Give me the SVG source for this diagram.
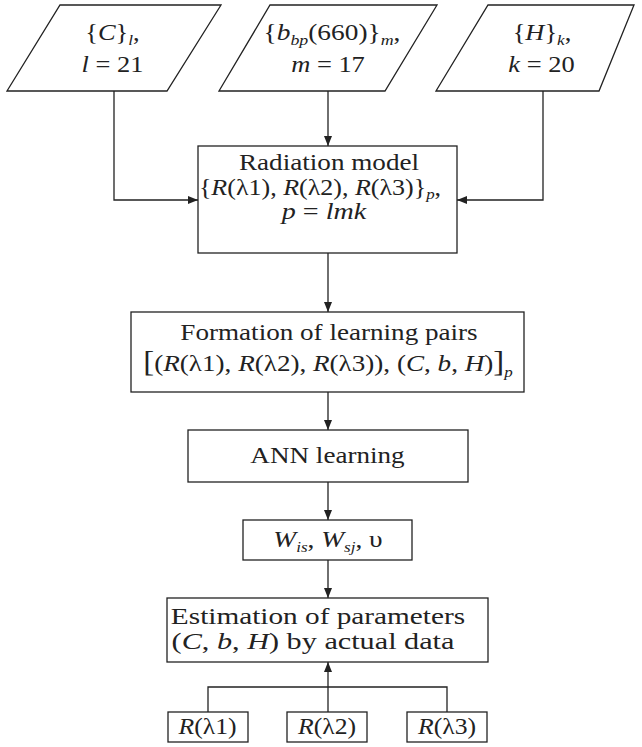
<svg xmlns="http://www.w3.org/2000/svg" width="642" height="747" viewBox="0 0 642 747">
<style>
  .shape { fill: #fff; stroke: #222; stroke-width: 1.3; }
  .conn { fill: none; stroke: #222; stroke-width: 1.3; }
  text { font-family: "Liberation Serif", "Times New Roman", serif; font-size: 24px; fill: #222; text-anchor: middle; }
  .pt { font-size: 23px; }
  .rm { font-size: 23px; }
  .i { font-style: italic; }
  .sub { font-size: 15px; font-style: italic; }
  .br { font-size: 29px; }
</style>
<defs>
  <marker id="arr" markerUnits="userSpaceOnUse" markerWidth="11" markerHeight="8" refX="10" refY="4" orient="auto">
    <path d="M0,0 L10,4 L0,8 z" fill="#222"/>
  </marker>
</defs>

<g id="connectors">
  <path class="conn" d="M114,91 V200 H198" marker-end="url(#arr)"/>
  <path class="conn" d="M543,91 V200 H457" marker-end="url(#arr)"/>
  <path class="conn" d="M328,91 V146" marker-end="url(#arr)"/>
  <path class="conn" d="M328,253 V312" marker-end="url(#arr)"/>
  <path class="conn" d="M328,392 V430" marker-end="url(#arr)"/>
  <path class="conn" d="M328,482 V520" marker-end="url(#arr)"/>
  <path class="conn" d="M328,560 V598" marker-end="url(#arr)"/>
  <path class="conn" d="M328,712 V662" marker-end="url(#arr)"/>
  <path class="conn" d="M208,712 V687 H447 V712"/>
</g>

<g id="input-C">
  <polygon class="shape" points="60,5 221,5 167,91 7,91"/>
  <text class="pt" transform="translate(112.5,40) scale(1.15,1)">{<tspan class="i">C</tspan>}<tspan class="sub" dy="5">l</tspan><tspan dy="-5">,</tspan></text>
  <text class="pt" transform="translate(112.5,72) scale(1.15,1)"><tspan class="i">l</tspan> = 21</text>
</g>

<g id="input-b">
  <polygon class="shape" points="270,5 437,5 385,91 219,91"/>
  <text class="pt" transform="translate(332,40) scale(1.19,1)">{<tspan class="i">b</tspan><tspan class="sub" dy="5">bp</tspan><tspan dy="-5">(660)}</tspan><tspan class="sub" dy="5">m</tspan><tspan dy="-5">,</tspan></text>
  <text class="pt" transform="translate(328,72) scale(1.15,1)"><tspan class="i">m</tspan> = 17</text>
</g>

<g id="input-H">
  <polygon class="shape" points="488,5 634,5 599,91 436,91"/>
  <text class="pt" transform="translate(542,40) scale(1.15,1)">{<tspan class="i">H</tspan>}<tspan class="sub" dy="5">k</tspan><tspan dy="-5">,</tspan></text>
  <text class="pt" transform="translate(541.5,72) scale(1.15,1)"><tspan class="i">k</tspan> = 20</text>
</g>

<g id="radiation-model">
  <rect class="shape" x="198" y="146" width="259" height="107"/>
  <text class="rm" transform="translate(329,170) scale(1.18,1)">Radiation model</text>
  <text class="rm" transform="translate(320,195) scale(1.13,1)">{<tspan class="i">R</tspan>(λ1), <tspan class="i">R</tspan>(λ2), <tspan class="i">R</tspan>(λ3)}<tspan class="sub" dy="4">p</tspan><tspan dy="-4">,</tspan></text>
  <text class="rm" transform="translate(324,219) scale(1.22,1)"><tspan class="i">p</tspan> = <tspan class="i">lmk</tspan></text>
</g>

<g id="learning-pairs">
  <rect class="shape" x="131" y="312" width="393" height="80"/>
  <text transform="translate(329,340) scale(1.13,1)">Formation of learning pairs</text>
  <text transform="translate(328,371) scale(1.13,1)"><tspan class="br">[</tspan>(<tspan class="i">R</tspan>(λ1), <tspan class="i">R</tspan>(λ2), <tspan class="i">R</tspan>(λ3)), (<tspan class="i">C</tspan>, <tspan class="i">b</tspan>, <tspan class="i">H</tspan>)<tspan class="br">]</tspan><tspan class="sub" dy="6">p</tspan></text>
</g>

<g id="ann-learning">
  <rect class="shape" x="188" y="430" width="280" height="52"/>
  <text transform="translate(327.5,463) scale(1.13,1)">ANN learning</text>
</g>

<g id="weights">
  <rect class="shape" x="243" y="520" width="169" height="40"/>
  <text transform="translate(328,547) scale(1.14,1)"><tspan class="i">W</tspan><tspan class="sub" dy="5">is</tspan><tspan dy="-5">, </tspan><tspan class="i">W</tspan><tspan class="sub" dy="5">sj</tspan><tspan dy="-5">, υ</tspan></text>
</g>

<g id="estimation">
  <rect class="shape" x="167" y="598" width="321" height="64"/>
  <text transform="translate(318,624) scale(1.22,1)">Estimation of parameters</text>
  <text transform="translate(313,649) scale(1.26,1)">(<tspan class="i">C</tspan>, <tspan class="i">b</tspan>, <tspan class="i">H</tspan>) by actual data</text>
</g>

<g id="R1">
  <rect class="shape" x="168" y="712" width="80" height="30"/>
  <text transform="translate(207.5,734) scale(1.07,1)"><tspan class="i">R</tspan>(λ1)</text>
</g>
<g id="R2">
  <rect class="shape" x="287" y="712" width="80" height="30"/>
  <text transform="translate(327,734) scale(1.07,1)"><tspan class="i">R</tspan>(λ2)</text>
</g>
<g id="R3">
  <rect class="shape" x="407" y="712" width="80" height="30"/>
  <text transform="translate(447,734) scale(1.07,1)"><tspan class="i">R</tspan>(λ3)</text>
</g>
</svg>
